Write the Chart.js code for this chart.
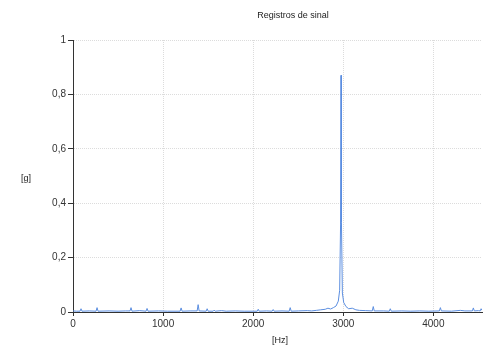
<!DOCTYPE html>
<html>
<head>
<meta charset="utf-8">
<script src="https://cdn.jsdelivr.net/npm/chart.js@4/dist/chart.umd.min.js"></script>
<style>
  html, body { margin: 0; padding: 0; background: #fff; }
  #wrap { width: 486px; height: 350px; }
</style>
</head>
<body>
<div id="wrap"><canvas id="chart"></canvas></div>
<script>
// frequências (Hz) e amplitudes (g)
const freqs = [0, 40, 78, 89, 100, 180, 256, 267, 278, 400, 500, 580, 633, 644, 655,
  740, 811, 822, 833, 950, 1050, 1189, 1200, 1211, 1300, 1378, 1389, 1400, 1478, 1489,
  1500, 1556, 1567, 1578, 1650, 1700, 1800, 1900, 2045, 2056, 2067, 2150, 2211, 2222,
  2233, 2320, 2400, 2411, 2422, 2500, 2600, 2650, 2700, 2750, 2800, 2830, 2860, 2890,
  2920, 2945, 2960, 2970, 2975, 2980, 2990, 3005, 3030, 3060, 3100, 3140, 3180, 3250,
  3322, 3333, 3344, 3450, 3511, 3522, 3533, 3650, 3750, 3850, 3950, 4067, 4078, 4089,
  4200, 4300, 4350, 4433, 4444, 4455, 4500, 4520, 4530, 4540];
const amps = [0.004, 0.003, 0.003, 0.012, 0.003, 0.004, 0.003, 0.016, 0.003, 0.004, 0.003,
  0.004, 0.004, 0.016, 0.003, 0.005, 0.003, 0.013, 0.003, 0.004, 0.003, 0.003, 0.015,
  0.003, 0.004, 0.004, 0.027, 0.004, 0.003, 0.012, 0.003, 0.003, 0.007, 0.003, 0.005,
  0.003, 0.004, 0.003, 0.003, 0.010, 0.003, 0.004, 0.003, 0.009, 0.003, 0.004, 0.003,
  0.016, 0.003, 0.004, 0.005, 0.004, 0.006, 0.008, 0.010, 0.014, 0.011, 0.016, 0.022,
  0.040, 0.080, 0.32, 0.87, 0.33, 0.07, 0.035, 0.020, 0.012, 0.014, 0.008, 0.006, 0.005,
  0.004, 0.020, 0.004, 0.004, 0.003, 0.012, 0.003, 0.004, 0.003, 0.004, 0.003, 0.004,
  0.016, 0.004, 0.003, 0.006, 0.004, 0.004, 0.015, 0.004, 0.005, 0.004, 0.012, 0.006];
const xTicks = [0, 1000, 2000, 3000, 4000];
const yTicks = [0, 0.2, 0.4, 0.6, 0.8, 1];

const chartTitle = "Registros de sinal";
const xTitle = "[Hz]";
const yTitle = "[g]";

const points = freqs.map((f, i) => ({ x: f, y: amps[i] }));

function fmt(v) {
  return Number.isInteger(v) ? String(v) : v.toFixed(1).replace(".", ",");
}

// textos soltos (título e rótulos dos eixos, na horizontal)
const textos = {
  id: "textos",
  afterDraw(c) {
    const ctx = c.ctx;
    ctx.save();
    ctx.fillStyle = "#222";
    ctx.textAlign = "center";
    ctx.textBaseline = "middle";
    ctx.font = "9px 'Liberation Sans', Arial, sans-serif";
    ctx.fillText(chartTitle, 293, 16);
    ctx.fillText(xTitle, 280, 341);
    ctx.fillText(yTitle, 26, 179);
    ctx.restore();
  }
};

const gradeX = { color: "#dcdcdc", tickColor: "#333", tickLength: 4, tickBorderDash: [] };
const gradeY = { color: "#dcdcdc", tickColor: "#333", tickLength: 5, tickBorderDash: [] };
const fonte = { family: "'Liberation Sans', Arial, sans-serif", size: 10 };

const ctx = document.getElementById("chart").getContext("2d");
new Chart(ctx, {
  type: "line",
  data: {
    datasets: [{
      data: points,
      borderColor: "#5b8ee0",
      borderWidth: 1,
      pointRadius: 0,
      tension: 0,
      fill: false
    }]
  },
  options: {
    responsive: true,
    maintainAspectRatio: false,
    animation: false,
    layout: { padding: { top: 40, right: 4, bottom: 0, left: 0 } },
    plugins: {
      legend: { display: false },
      tooltip: { enabled: false },
      title: { display: false }
    },
    scales: {
      x: {
        type: "linear",
        min: 0,
        max: 4540,
        afterBuildTicks: s => { s.ticks = xTicks.map(v => ({ value: v })); },
        afterFit: s => { s.height = 38; },
        grid: gradeX,
        border: { color: "#333", width: 1, dash: [1, 1] },
        ticks: { color: "#333", padding: 2, maxRotation: 0, font: fonte, callback: v => fmt(v) }
      },
      y: {
        min: 0,
        max: 1,
        afterBuildTicks: s => { s.ticks = yTicks.map(v => ({ value: v })); },
        afterFit: s => { s.width = 73; },
        grid: gradeY,
        border: { color: "#333", width: 1, dash: [1, 1] },
        ticks: { color: "#333", padding: 2, font: fonte, callback: v => fmt(v) }
      }
    }
  },
  plugins: [textos]
});
</script>
</body>
</html>
